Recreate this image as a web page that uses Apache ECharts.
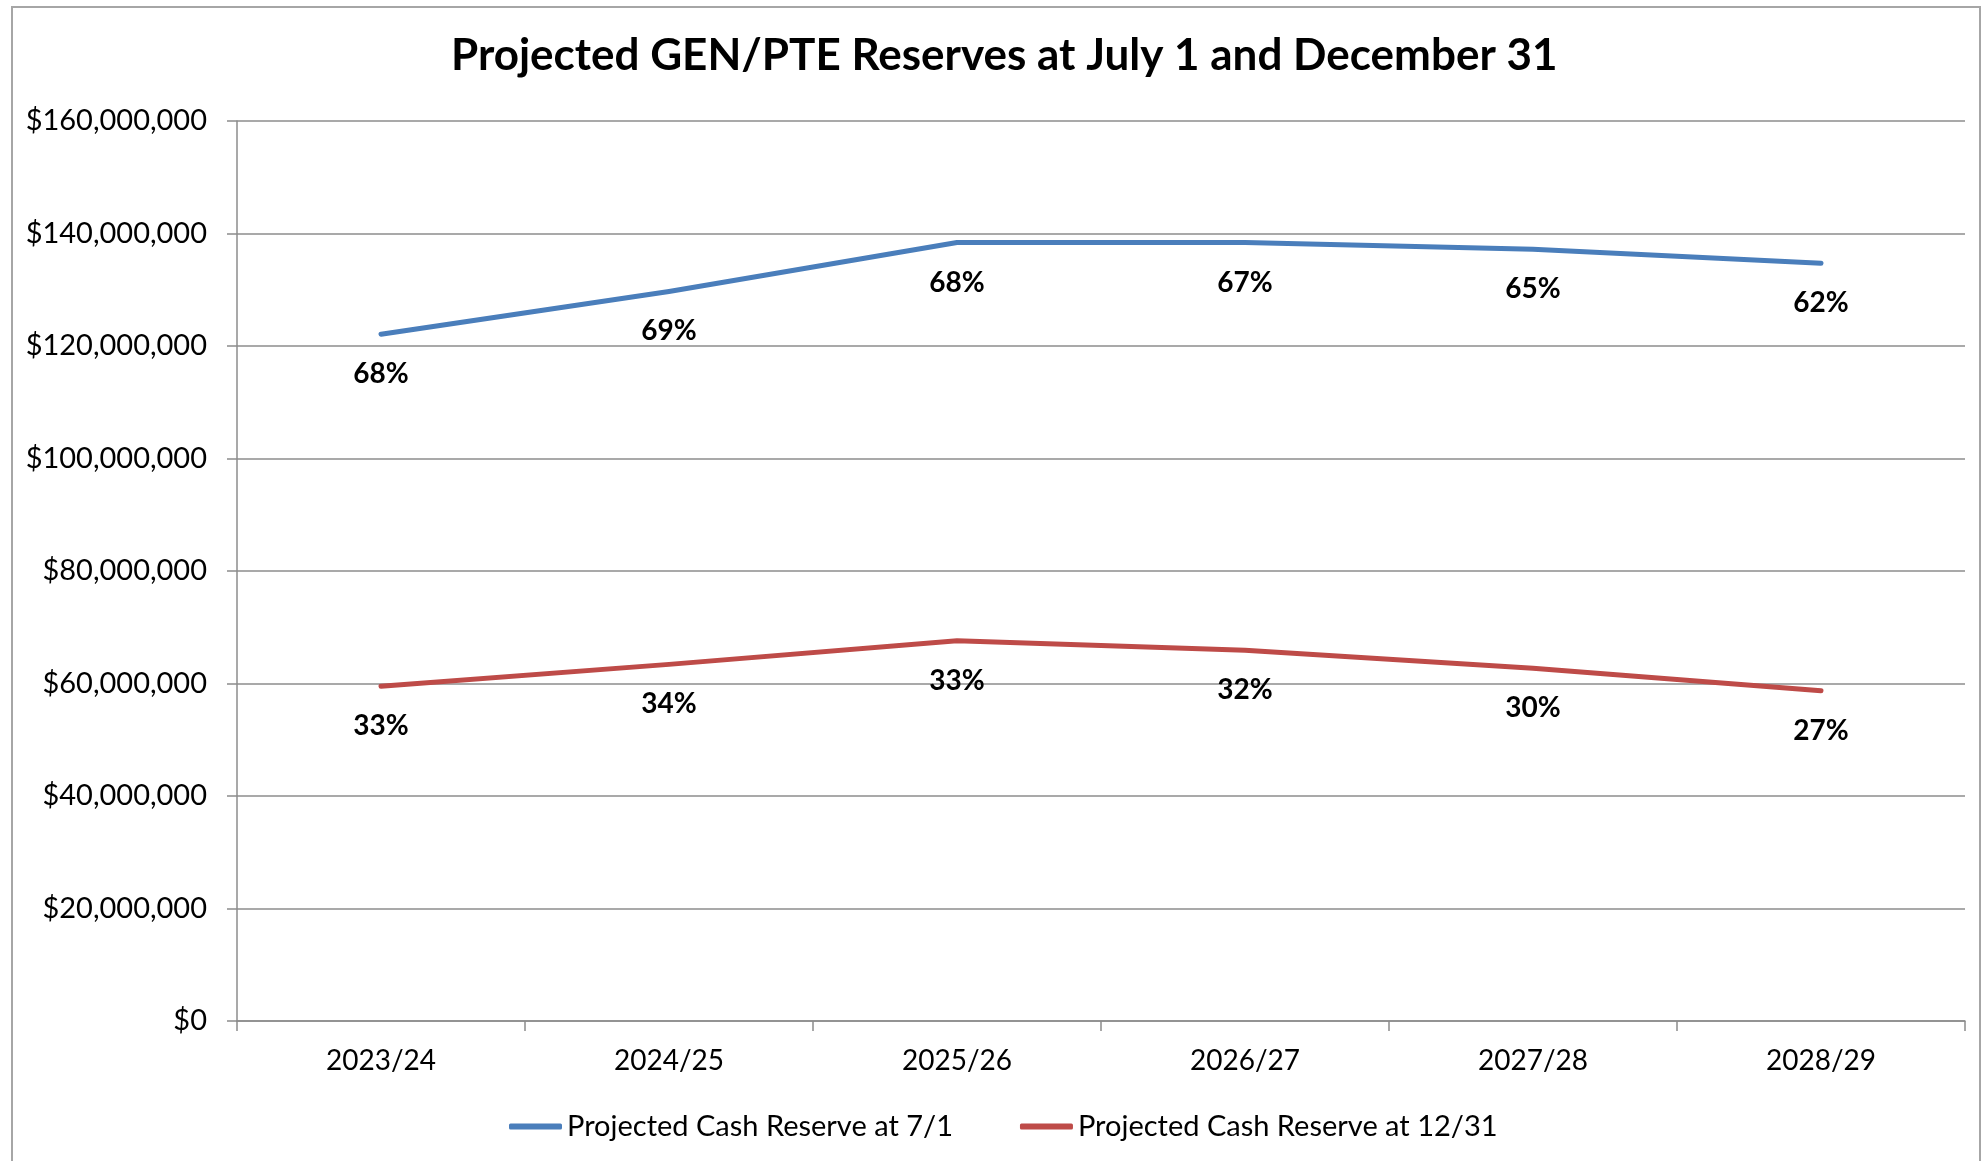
<!DOCTYPE html>
<html>
<head>
<meta charset="utf-8">
<title>Projected GEN/PTE Reserves</title>
<script src="https://cdn.jsdelivr.net/npm/echarts@6/dist/echarts.min.js"></script>
<style>
  html, body { margin: 0; padding: 0; background: #fff; }
  #chart { width: 1984px; height: 1161px; }
</style>
</head>
<body>
<div id="chart"></div>
<script>
// data
var years = ['2023/24', '2024/25', '2025/26', '2026/27', '2027/28', '2028/29'];
var reserveJul = [122100000, 129700000, 138400000, 138400000, 137200000, 134700000];
var reserveDec = [59500000, 63400000, 67600000, 65900000, 62700000, 58700000];
var pctJul = ['68%', '69%', '68%', '67%', '65%', '62%'];
var pctDec = ['33%', '34%', '33%', '32%', '30%', '27%'];

var FONT = 'Lato, "Open Sans", sans-serif';

function money(v) {
  return '$' + String(v).replace(/\B(?=(\d{3})+(?!\d))/g, ',');
}

// label under each point, text taken from the pct arrays
function pctLabel(list) {
  return {
    show: true,
    position: 'inside',
    offset: [0, 40],
    fontFamily: FONT,
    fontWeight: 'bold',
    fontSize: 28,
    color: '#000',
    formatter: function (p) { return list[p.dataIndex]; }
  };
}

var chart = echarts.init(document.getElementById('chart'));
chart.setOption({
  animation: false,
  title: {
    text: 'Projected GEN/PTE Reserves at July 1 and December 31',
    left: 451,
    top: 34,
    padding: 0,
    textStyle: { fontFamily: FONT, fontWeight: 'bold', fontSize: 44, color: '#000' }
  },
  graphic: [{
    type: 'rect',
    shape: { x: 12, y: 7, width: 1968, height: 1200 },
    style: { fill: 'none', stroke: '#a6a6a6', lineWidth: 2 },
    silent: true
  }],
  legend: {
    left: 509,
    top: 1112,
    padding: 0,
    itemGap: 67,
    itemWidth: 53,
    itemHeight: 6,
    icon: 'roundRect',
    textStyle: { fontFamily: FONT, fontSize: 29, color: '#000' },
    data: ['Projected Cash Reserve at 7/1', 'Projected Cash Reserve at 12/31']
  },
  grid: { left: 237, right: 19, top: 121, bottom: 140, containLabel: false },
  xAxis: {
    type: 'category',
    data: years,
    boundaryGap: true,
    axisLine: { lineStyle: { color: '#8c8c8c', width: 1.5 } },
    axisTick: { show: true, length: 10, lineStyle: { color: '#8c8c8c', width: 1.5 } },
    axisLabel: { margin: 26, fontFamily: FONT, fontSize: 28, color: '#000' }
  },
  yAxis: {
    type: 'value',
    min: 0,
    max: 160000000,
    interval: 20000000,
    axisLine: { show: true, lineStyle: { color: '#8c8c8c', width: 1.5 } },
    axisTick: { show: true, length: 10, lineStyle: { color: '#8c8c8c', width: 1.5 } },
    splitLine: { show: true, lineStyle: { color: '#8c8c8c', width: 1.5 } },
    axisLabel: { margin: 30, fontFamily: FONT, fontSize: 29, color: '#000', formatter: money }
  },
  series: [
    {
      name: 'Projected Cash Reserve at 7/1',
      type: 'line',
      data: reserveJul,
      symbol: 'circle',
      symbolSize: 1,
      lineStyle: { color: '#4a7ebb', width: 5, cap: 'round', join: 'round' },
      itemStyle: { color: '#4a7ebb' },
      label: pctLabel(pctJul)
    },
    {
      name: 'Projected Cash Reserve at 12/31',
      type: 'line',
      data: reserveDec,
      symbol: 'circle',
      symbolSize: 1,
      lineStyle: { color: '#be4b48', width: 5, cap: 'round', join: 'round' },
      itemStyle: { color: '#be4b48' },
      label: pctLabel(pctDec)
    }
  ]
});
</script>
</body>
</html>
